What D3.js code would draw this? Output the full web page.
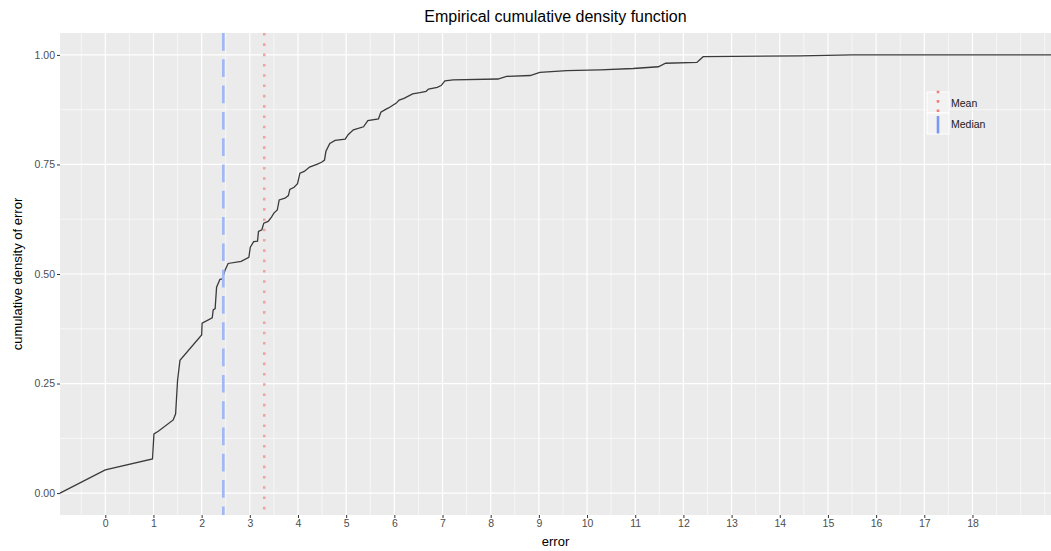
<!DOCTYPE html>
<html>
<head>
<meta charset="utf-8">
<script src="https://cdnjs.cloudflare.com/ajax/libs/d3/7.8.5/d3.min.js"></script>
<style>
  body { margin: 0; background: #fff; }
  text { font-family: "Liberation Sans", Arial, sans-serif; }
</style>
</head>
<body>
<div id="chart"></div>
<script>
// data: ecdf of error (padded at both ends like stat_ecdf)
var errorX = [-0.94, 0, 0.98, 1.01, 1.1, 1.41, 1.46, 1.5, 1.55, 2.0, 2.01, 2.22, 2.24, 2.28, 2.31,
  2.38, 2.43, 2.49, 2.55, 2.82, 2.98, 3.01, 3.08, 3.16, 3.18, 3.25, 3.29, 3.38, 3.45, 3.5,
  3.57, 3.61, 3.73, 3.8, 3.83, 3.92, 3.99, 4.04, 4.13, 4.24, 4.39, 4.49, 4.55, 4.58, 4.66,
  4.77, 4.98, 5.04, 5.15, 5.36, 5.45, 5.67, 5.72, 5.81, 5.88, 6.04, 6.1, 6.2, 6.38, 6.53,
  6.66, 6.71, 6.89, 6.97, 7.05, 7.22, 8.15, 8.33, 8.82, 9.02, 9.58, 10.27, 10.96, 11.48,
  11.63, 12.28, 12.41, 14.42, 15.5, 19.63];
var cdfY = [0, 0.053, 0.078, 0.135, 0.141, 0.167, 0.181, 0.257, 0.303, 0.361, 0.388, 0.40, 0.418, 0.421, 0.47,
  0.488, 0.489, 0.51, 0.524, 0.529, 0.538, 0.561, 0.574, 0.575, 0.597, 0.601, 0.616, 0.62, 0.63, 0.639,
  0.646, 0.669, 0.673, 0.679, 0.693, 0.698, 0.706, 0.73, 0.734, 0.744, 0.75, 0.755, 0.76, 0.78, 0.798,
  0.805, 0.808, 0.818, 0.829, 0.836, 0.85, 0.854, 0.869, 0.875, 0.879, 0.89, 0.897, 0.901, 0.911, 0.914,
  0.917, 0.922, 0.926, 0.93, 0.941, 0.943, 0.945, 0.951, 0.953, 0.96, 0.964, 0.966, 0.969, 0.973,
  0.981, 0.983, 0.996, 0.998, 1.0, 1.0];

var meanError = 3.30;
var medianError = 2.45;

var xTicks = d3.range(0, 19);
var xMinor = d3.range(-0.5, 20, 0.5).filter(d => d % 1 !== 0).concat([19]);
var yTicks = [0, 0.25, 0.5, 0.75, 1];
var yMinor = [0.125, 0.375, 0.625, 0.875];
var legendLabels = ["Mean", "Median"];

var svgWidth = 1051;
var svgHeight = 551;

var margin = {
  top: 33,
  right: 0,
  bottom: 36,
  left: 60
};

var width = svgWidth - margin.left - margin.right;
var height = svgHeight - margin.top - margin.bottom;

var svg = d3.select("#chart")
  .append("svg")
  .attr("width", svgWidth)
  .attr("height", svgHeight);

var chartGroup = svg.append("g")
  .attr("transform", `translate(${margin.left}, ${margin.top})`);

// scales
var xLinearScale = d3.scaleLinear()
  .domain([-0.94, 19.63])
  .range([0, width]);

var yLinearScale = d3.scaleLinear()
  .domain([-0.05, 1.05])
  .range([height, 0]);

// panel + grid
chartGroup.append("rect")
  .attr("width", width)
  .attr("height", height)
  .attr("fill", "#EBEBEB");

chartGroup.selectAll(".xminor")
  .data(xMinor)
  .enter()
  .append("line")
  .attr("x1", d => xLinearScale(d))
  .attr("x2", d => xLinearScale(d))
  .attr("y1", 0)
  .attr("y2", height)
  .attr("stroke", "#fff")
  .attr("stroke-width", 0.6);

chartGroup.selectAll(".yminor")
  .data(yMinor)
  .enter()
  .append("line")
  .attr("x1", 0)
  .attr("x2", width)
  .attr("y1", d => yLinearScale(d))
  .attr("y2", d => yLinearScale(d))
  .attr("stroke", "#fff")
  .attr("stroke-width", 0.6);

chartGroup.selectAll(".xmajor")
  .data(xTicks)
  .enter()
  .append("line")
  .attr("x1", d => xLinearScale(d))
  .attr("x2", d => xLinearScale(d))
  .attr("y1", 0)
  .attr("y2", height)
  .attr("stroke", "#fff")
  .attr("stroke-width", 1.2);

chartGroup.selectAll(".ymajor")
  .data(yTicks)
  .enter()
  .append("line")
  .attr("x1", 0)
  .attr("x2", width)
  .attr("y1", d => yLinearScale(d))
  .attr("y2", d => yLinearScale(d))
  .attr("stroke", "#fff")
  .attr("stroke-width", 1.2);

// axes
var bottomAxis = d3.axisBottom(xLinearScale)
  .tickValues(xTicks)
  .tickSize(3)
  .tickPadding(2)
  .tickFormat(d3.format("d"));
var leftAxis = d3.axisLeft(yLinearScale)
  .tickValues(yTicks)
  .tickSize(3)
  .tickPadding(2)
  .tickFormat(d3.format(".2f"));

var xAxisG = chartGroup.append("g")
  .attr("transform", `translate(0, ${height})`)
  .call(bottomAxis);

var yAxisG = chartGroup.append("g")
  .call(leftAxis);

[xAxisG, yAxisG].forEach(function(g) {
  g.select(".domain").remove();
  g.selectAll(".tick line").attr("stroke", "#333").attr("stroke-width", 1);
  g.selectAll(".tick text")
    .attr("fill", "#4D4D4D")
    .style("font-size", "10.5px")
    .style("font-family", "'Liberation Sans', Arial, sans-serif");
});

// the ecdf line
var points = errorX.map((d, i) => [d, cdfY[i]]);
var line = d3.line()
  .x(d => xLinearScale(d[0]))
  .y(d => yLinearScale(d[1]));

chartGroup.append("path")
  .datum(points)
  .attr("d", line)
  .attr("fill", "none")
  .attr("stroke", "#3a3a3a")
  .attr("stroke-width", 1.3);

// median and mean lines
chartGroup.append("line")
  .attr("x1", xLinearScale(medianError))
  .attr("x2", xLinearScale(medianError))
  .attr("y1", 0)
  .attr("y2", height)
  .attr("stroke", "#A2B8F5")
  .attr("stroke-width", 2.7)
  .attr("stroke-dasharray", "17.7,8.6");

chartGroup.append("line")
  .attr("x1", xLinearScale(meanError))
  .attr("x2", xLinearScale(meanError))
  .attr("y1", 0)
  .attr("y2", height)
  .attr("stroke", "#F2A3A0")
  .attr("stroke-width", 2.6)
  .attr("stroke-dasharray", "2.6,7.7");

// legend
var legend = svg.append("g")
  .attr("transform", "translate(927, 92)");

var keys = legend.selectAll("g")
  .data(legendLabels)
  .enter()
  .append("g")
  .attr("transform", (d, i) => `translate(0, ${i * 21})`);

keys.append("rect")
  .attr("width", 22)
  .attr("height", 21)
  .attr("fill", "#F2F2F2")
  .attr("stroke", "#fff")
  .attr("stroke-width", 1);

keys.append("line")
  .attr("x1", 11)
  .attr("x2", 11)
  .attr("y1", (d, i) => i === 0 ? -1.3 : 3)
  .attr("y2", (d, i) => i === 0 ? 21 : 20.5)
  .attr("stroke", (d, i) => i === 0 ? "#F07F7A" : "#7B98F4")
  .attr("stroke-width", 2.6)
  .attr("stroke-dasharray", (d, i) => i === 0 ? "2.6,6.8" : null);

keys.append("text")
  .attr("x", 24)
  .attr("y", 11)
  .attr("dy", "0.35em")
  .attr("fill", "#1a1a1a")
  .style("font-size", "10.5px")
  .text(d => d);

// titles
svg.append("text")
  .attr("x", margin.left + width / 2)
  .attr("y", 22)
  .attr("text-anchor", "middle")
  .attr("fill", "#000")
  .style("font-size", "16px")
  .text("Empirical cumulative density function");

svg.append("text")
  .attr("x", margin.left + width / 2)
  .attr("y", 546)
  .attr("text-anchor", "middle")
  .attr("fill", "#000")
  .style("font-size", "13px")
  .text("error");

svg.append("text")
  .attr("transform", "rotate(-90)")
  .attr("x", -(margin.top + height / 2))
  .attr("y", 22)
  .attr("text-anchor", "middle")
  .attr("fill", "#000")
  .style("font-size", "13px")
  .text("cumulative density of error");
</script>
</body>
</html>
